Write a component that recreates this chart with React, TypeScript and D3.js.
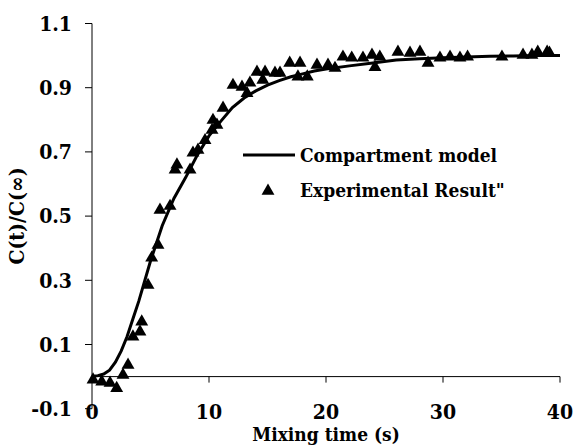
import React from "react";
import * as d3 from "d3";

// model curve (compartment model)
const modelTime = [0, 0.5, 1, 1.5, 2, 2.5, 3, 3.5, 4, 5, 6, 7, 8, 9, 10, 11, 12, 13, 14, 15, 16, 17, 18, 19, 20, 22, 24, 26, 28, 30, 32, 34, 36, 38, 40];
const modelValue = [0, 0.003, 0.008, 0.02, 0.045, 0.08, 0.125, 0.18, 0.235, 0.36, 0.47, 0.555, 0.62, 0.69, 0.75, 0.795, 0.838, 0.868, 0.89, 0.908, 0.922, 0.934, 0.943, 0.952, 0.958, 0.968, 0.977, 0.986, 0.99, 0.993, 0.996, 0.998, 0.999, 1.0, 1.0];

// experimental points
const expTime = [0.09, 0.83, 1.54, 2.11, 2.65, 3.08, 3.5, 4.1, 4.25, 4.79, 5.1, 5.64, 5.81, 6.67, 7.1, 7.26, 8.38, 8.63, 9.06, 9.66, 10.26, 10.34, 10.68, 11.2, 12.05, 12.82, 13.25, 13.5, 14.1, 14.6, 14.79, 15.64, 16.07, 16.9, 17.6, 17.78, 18.4, 19.23, 20.17, 20.77, 21.45, 22.2, 23.16, 23.93, 24.19, 24.6, 26.15, 27.18, 28.03, 28.72, 29.74, 30.6, 31.45, 32.1, 35.04, 36.84, 37.6, 38.1, 38.9, 39.1];
const expValue = [-0.01, -0.016, -0.02, -0.036, 0.005, 0.036, 0.124, 0.14, 0.171, 0.285, 0.37, 0.41, 0.519, 0.531, 0.644, 0.66, 0.644, 0.697, 0.706, 0.736, 0.768, 0.799, 0.784, 0.837, 0.908, 0.902, 0.883, 0.915, 0.949, 0.924, 0.949, 0.946, 0.946, 0.977, 0.934, 0.977, 0.934, 0.971, 0.971, 0.961, 0.996, 0.993, 0.993, 1.002, 0.964, 0.996, 1.011, 1.008, 1.011, 0.977, 0.993, 0.996, 0.993, 0.996, 0.996, 1.002, 1.002, 1.011, 1.011, 1.008];

const xTicks = [0, 10, 20, 30, 40];
const yTicks = [1.1, 0.9, 0.7, 0.5, 0.3, 0.1, -0.1];

const width = 576;
const height = 445;
const textStyle: React.CSSProperties = {
  fontFamily: '"DejaVu Serif Condensed", "DejaVu Serif", serif',
  fontStretch: "condensed",
  fontWeight: "bold",
  fontSize: 19,
};
const tickStyle: React.CSSProperties = { ...textStyle, fontSize: 21 };

const fmt = (v: number) => v.toFixed(1);

export default function App() {
  const x = d3.scaleLinear().domain([0, 40]).range([92, 560]);
  const y = d3.scaleLinear().domain([-0.1, 1.1]).range([408.7, 23.5]);

  const line = d3
    .line<number>()
    .x((_, i) => x(modelTime[i]))
    .y((d) => y(d));

  const tri = d3.symbol().type(d3.symbolTriangle).size(72)() as string;

  return (
    <svg
      width={width}
      height={height}
      style={{ position: "absolute", left: 0, top: 0, background: "#fff" }}
    >
      {/* y axis */}
      <line x1={x(0)} x2={x(0)} y1={y(1.1)} y2={y(-0.1)} stroke="#000" strokeWidth={1} />
      {yTicks.map((t) => (
        <g key={t}>
          <line x1={x(0) - 7} x2={x(0)} y1={y(t)} y2={y(t)} stroke="#000" />
          <text x={72} y={y(t)} dy="0.35em" textAnchor="end" style={tickStyle}>
            {fmt(t)}
          </text>
        </g>
      ))}
      {/* x axis */}
      <line x1={x(0)} x2={x(40)} y1={y(0)} y2={y(0)} stroke="#000" strokeWidth={1} />
      {xTicks.map((t) => (
        <g key={t}>
          <line x1={x(t)} x2={x(t)} y1={y(0)} y2={y(0) + 6} stroke="#000" />
          <text x={x(t)} y={419} textAnchor="middle" style={tickStyle}>
            {t}
          </text>
        </g>
      ))}
      <text x={326} y={441} textAnchor="middle" style={textStyle}>
        Mixing time (s)
      </text>
      <text
        transform={`translate(24,216) rotate(-90)`}
        textAnchor="middle"
        style={{ ...textStyle, fontSize: 21 }}
      >
        C(t)/C(∞)
      </text>

      {/* model */}
      <path d={line(modelValue) ?? ""} fill="none" stroke="#000" strokeWidth={3} />

      {/* experiment */}
      {expTime.map((t, i) => (
        <path key={i} d={tri} transform={`translate(${x(t)},${y(expValue[i])})`} fill="#000" />
      ))}

      {/* legend */}
      <line x1={243} x2={295} y1={155} y2={155} stroke="#000" strokeWidth={3} />
      <text x={300} y={162} style={textStyle}>
        Compartment model
      </text>
      <path d={tri} transform="translate(268,191)" fill="#000" />
      <text x={300} y={197} style={textStyle}>
        Experimental Result"
      </text>
    </svg>
  );
}
